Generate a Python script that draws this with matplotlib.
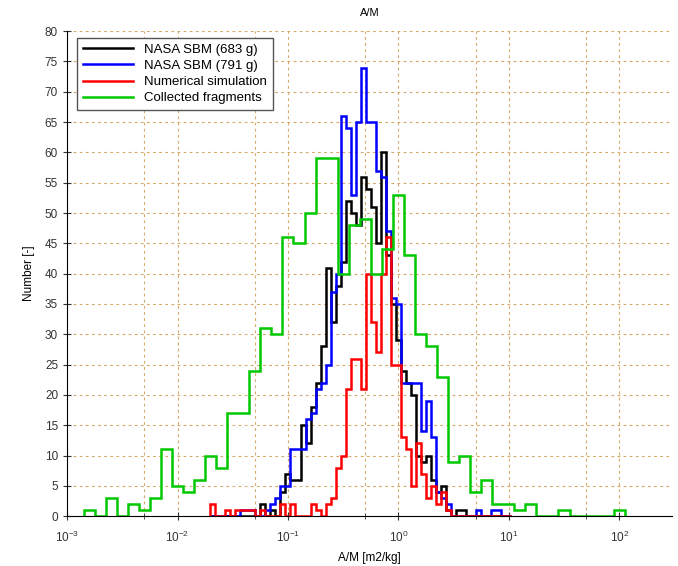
import numpy as np
import matplotlib
matplotlib.use('Agg')
import matplotlib.pyplot as plt
from matplotlib.ticker import LogLocator, NullFormatter, MultipleLocator

plt.rcParams['font.family'] = ['Liberation Sans', 'DejaVu Sans']
plt.rcParams['mathtext.default'] = 'regular'

# bin edges, log10(A/M)
fine_log_edges = (np.arange(61) - 37.5) / 22.0     # SBM + simulation bins
coarse_log_edges = -2.85 + 0.1 * np.arange(50)     # collected fragments bins

sbm_683 = [0, 0, 0, 0, 0, 0, 0, 0, 0, 0,
           2, 0, 1, 0, 4, 7, 6, 6, 15, 12,
           18, 22, 28, 41, 32, 38, 42, 52, 50, 48,
           56, 54, 51, 45, 60, 43, 35, 29, 24, 22,
           20, 10, 9, 10, 6, 4, 5, 1, 0, 1,
           1, 0, 0, 0, 0, 0, 0, 0, 0, 0]
sbm_791 = [0, 0, 0, 0, 0, 0, 1, 1, 1, 0,
           0, 1, 2, 3, 5, 5, 11, 11, 11, 16,
           17, 21, 22, 25, 37, 40, 66, 64, 53, 65,
           74, 65, 65, 57, 56, 47, 36, 35, 22, 22,
           22, 22, 14, 19, 13, 4, 3, 2, 0, 0,
           0, 0, 0, 1, 0, 0, 1, 1, 0, 0]
simulation = [2, 0, 0, 1, 0, 1, 1, 1, 1, 0,
              1, 0, 0, 0, 2, 0, 2, 0, 0, 0,
              2, 1, 0, 2, 3, 8, 10, 21, 26, 26,
              21, 40, 32, 27, 40, 46, 25, 25, 13, 11,
              5, 12, 7, 3, 5, 2, 4, 1, 0, 0,
              0, 0, 0, 0, 0, 0, 0, 0, 0, 0]
collected = [1, 0, 3, 0, 2, 1, 3, 11, 5, 4,
             6, 10, 8, 17, 17, 24, 31, 30, 46, 45,
             50, 59, 59, 40, 48, 49, 40, 44, 53, 43,
             30, 28, 23, 9, 10, 4, 6, 2, 2, 1,
             2, 0, 0, 1, 0, 0, 0, 0, 1]

series = [
    (sbm_683, fine_log_edges, 'black', 'NASA SBM (683 g)'),
    (sbm_791, fine_log_edges, '#0000ff', 'NASA SBM (791 g)'),
    (simulation, fine_log_edges, '#ff0000', 'Numerical simulation'),
    (collected, coarse_log_edges, '#00c800', 'Collected fragments'),
]

fig = plt.figure(figsize=(6.78, 5.66), dpi=100)
ax = fig.add_axes([0.099, 0.088, 0.892, 0.857])

for counts, log_edges, color, label in series:
    ax.stairs(counts, 10 ** log_edges, color=color, lw=1.8, label=label)

ax.set_xscale('log')
ax.set_xlim(1e-3, 300)
ax.set_ylim(0, 80)
ax.yaxis.set_major_locator(MultipleLocator(5))
ax.xaxis.set_major_locator(LogLocator(base=10, numticks=20))
ax.xaxis.set_minor_locator(LogLocator(base=10, subs=[5], numticks=20))
ax.xaxis.set_minor_formatter(NullFormatter())

ax.grid(True, which='both', color='#d8a868', ls=(0, (2.5, 3)), lw=0.8)
ax.set_axisbelow(True)
for s in ('top', 'right'):
    ax.spines[s].set_visible(False)
ax.tick_params(which='both', direction='inout', labelsize=8.5, length=6,
               color='#333333', labelcolor='#333333')
ax.tick_params(axis='x', which='minor', length=5)
ax.tick_params(axis='x', pad=7)

ax.set_title('A/M', fontsize=8, pad=11)
ax.set_xlabel('A/M [m2/kg]', fontsize=8.5, labelpad=5)
ax.set_ylabel('Number [-]', fontsize=8.5, labelpad=7)

leg = ax.legend(loc='upper left', bbox_to_anchor=(0.006, 1.0), fontsize=9.5,
                handlelength=3.8, labelspacing=0.3, fancybox=False,
                framealpha=1, edgecolor='#555555', borderpad=0.45)
leg.get_frame().set_linewidth(1.0)

fig.savefig('out.png', dpi=100)
